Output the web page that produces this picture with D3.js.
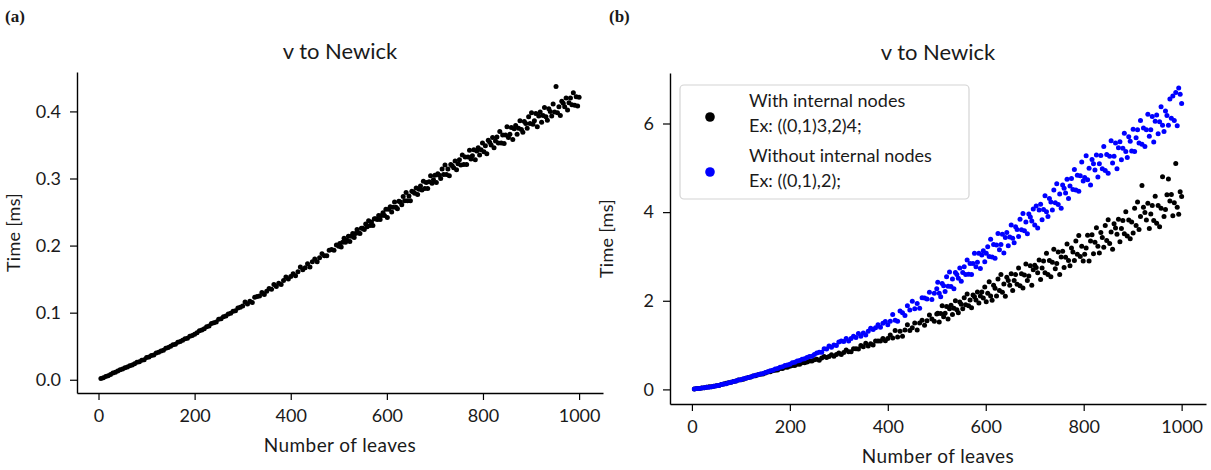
<!DOCTYPE html>
<html><head><meta charset="utf-8">
<script src="https://cdn.jsdelivr.net/npm/d3@7"></script>
<style>body{margin:0;background:#fff}svg text{font-family:Lato,"Noto Sans",sans-serif;fill:#1a1a1a}</style>
</head><body>
<svg id="c" width="1211" height="470"></svg>
<script>
// number of leaves (x values, shared by all series)
const leaves = [5,10,15,20,25,30,35,40,45,50,55,60,65,70,75,80,85,90,95,100,
105,110,115,120,125,130,135,140,145,150,155,160,165,170,175,180,185,190,195,200,
205,210,215,220,225,230,235,240,245,250,255,260,265,270,275,280,285,290,295,300,
305,310,315,320,325,330,335,340,345,350,355,360,365,370,375,380,385,390,395,400,
405,410,415,420,425,430,435,440,445,450,455,460,465,470,475,480,485,490,495,500,
502,505,508,511,514,517,520,523,526,529,532,535,538,541,544,547,550,553,556,559,562,565,568,571,574,577,580,583,586,589,592,595,598,
601,604,607,610,613,616,619,622,625,628,631,634,637,640,643,646,649,652,655,658,661,664,667,670,673,676,679,682,685,688,691,694,697,700,
703,706,709,712,715,718,721,724,727,730,733,736,739,742,745,748,751,754,757,760,763,766,769,772,775,778,781,784,787,790,793,796,799,
802,805,808,811,814,817,820,823,826,829,832,835,838,841,844,847,850,853,856,859,862,865,868,871,874,877,880,883,886,889,892,895,898,
901,904,907,910,913,916,919,922,925,928,931,934,937,940,943,946,949,952,955,958,961,964,967,970,973,976,979,982,985,988,991,994,997,1000];

// panel (a): time [ms]
const timeA = [0.002,0.003,0.005,0.006,0.008,0.010,0.011,0.013,0.015,0.016,0.018,0.019,0.021,0.022,0.024,0.026,0.027,0.029,0.030,0.033,
0.034,0.036,0.037,0.040,0.041,0.043,0.044,0.047,0.048,0.050,0.052,0.053,0.056,0.057,0.059,0.061,0.062,0.065,0.066,0.068,
0.070,0.073,0.074,0.076,0.079,0.080,0.084,0.085,0.086,0.090,0.091,0.094,0.095,0.098,0.099,0.102,0.103,0.107,0.108,0.110,
0.116,0.113,0.117,0.115,0.123,0.124,0.125,0.130,0.127,0.132,0.136,0.135,0.142,0.139,0.144,0.142,0.148,0.153,0.150,0.154,
0.158,0.155,0.161,0.168,0.164,0.167,0.173,0.168,0.176,0.180,0.176,0.182,0.188,0.185,0.185,0.193,0.194,0.193,0.201,0.199,
0.203,0.198,0.205,0.211,0.205,0.208,0.214,0.206,0.214,0.218,0.212,0.218,0.224,0.219,0.218,0.226,0.226,0.224,0.232,0.228,0.237,0.230,0.235,0.230,0.240,0.240,0.239,0.245,0.239,0.245,0.249,0.245,0.254,
0.242,0.254,0.258,0.250,0.257,0.265,0.257,0.255,0.266,0.265,0.261,0.273,0.267,0.279,0.267,0.274,0.267,0.281,0.280,0.278,0.286,0.276,0.284,0.289,0.283,0.296,0.285,0.294,0.285,0.295,0.304,0.293,0.298,0.305,
0.294,0.307,0.305,0.300,0.314,0.306,0.320,0.306,0.314,0.304,0.321,0.319,0.316,0.326,0.313,0.322,0.328,0.320,0.335,0.321,0.332,0.321,0.332,0.342,0.329,0.334,0.343,0.328,0.341,0.346,0.335,0.343,0.353,
0.340,0.349,0.337,0.357,0.354,0.350,0.361,0.346,0.356,0.362,0.353,0.370,0.353,0.365,0.352,0.365,0.377,0.361,0.366,0.376,0.358,0.374,0.379,0.366,0.375,0.386,0.373,0.369,0.385,0.382,0.375,0.392,0.382,
0.398,0.381,0.386,0.397,0.377,0.393,0.399,0.384,0.394,0.406,0.392,0.387,0.404,0.400,0.393,0.411,0.399,0.437,0.398,0.407,0.394,0.415,0.412,0.407,0.420,0.402,0.413,0.420,0.410,0.428,0.409,0.422,0.408,0.421];

// panel (b): with internal nodes
const timeWith = [0.01,0.02,0.02,0.03,0.04,0.05,0.06,0.06,0.07,0.08,0.09,0.11,0.12,0.14,0.15,0.16,0.18,0.19,0.21,0.22,
0.23,0.25,0.27,0.28,0.30,0.31,0.33,0.34,0.35,0.37,0.39,0.40,0.42,0.43,0.44,0.47,0.47,0.50,0.50,0.52,
0.54,0.54,0.57,0.57,0.60,0.60,0.62,0.64,0.64,0.67,0.68,0.66,0.71,0.74,0.72,0.74,0.78,0.75,0.79,0.82,
0.79,0.83,0.89,0.85,0.85,0.92,0.92,0.91,0.99,0.96,1.04,0.98,1.03,1.00,1.09,1.09,1.09,1.15,1.10,1.15,
1.23,1.16,1.33,1.18,1.31,1.20,1.34,1.46,1.33,1.39,1.50,1.34,1.50,1.56,1.45,1.55,1.68,1.59,1.54,1.70,
1.72,1.52,1.71,1.89,1.64,1.72,1.87,1.59,1.82,1.90,1.69,1.83,2.00,1.80,1.73,1.97,1.92,1.82,2.07,1.91,2.15,1.89,2.02,1.84,2.13,2.09,2.02,2.20,1.95,2.11,2.20,2.06,2.31,
1.98,2.17,2.43,2.11,2.01,2.35,2.28,2.11,2.49,2.23,2.59,2.19,2.38,2.10,2.53,2.46,2.35,2.61,2.23,2.46,2.59,2.37,2.74,2.34,2.61,2.29,2.58,2.83,2.46,2.56,2.79,2.35,2.70,2.80,
2.75,2.63,2.92,2.48,2.74,2.90,2.63,3.07,2.59,2.91,2.54,2.87,3.16,2.72,2.84,3.10,2.59,2.99,3.12,2.75,2.98,3.28,2.91,2.79,3.19,3.10,2.91,3.35,3.05,3.47,3.00,3.23,2.90,
3.05,3.19,3.48,2.90,3.35,3.49,3.06,3.32,3.65,3.23,3.08,3.54,3.43,3.21,3.70,3.36,3.83,3.29,3.55,3.16,3.74,3.64,3.50,3.84,3.33,3.63,3.81,3.51,4.01,3.46,3.82,3.40,3.78,
3.53,4.09,3.70,4.23,3.61,3.90,4.60,4.11,3.99,3.82,4.20,3.63,3.96,4.15,3.81,4.36,3.75,4.15,3.67,4.09,4.80,3.90,4.06,4.39,4.75,4.25,4.40,3.92,4.21,5.10,4.11,3.95,4.46,4.35];

// panel (b): without internal nodes
const timeWithout = [0.01,0.02,0.02,0.03,0.04,0.05,0.05,0.06,0.07,0.08,0.09,0.11,0.12,0.13,0.15,0.16,0.18,0.19,0.21,0.22,
0.24,0.25,0.27,0.28,0.30,0.32,0.33,0.35,0.36,0.38,0.40,0.42,0.43,0.46,0.47,0.50,0.51,0.54,0.55,0.57,
0.60,0.61,0.64,0.65,0.68,0.69,0.72,0.74,0.75,0.79,0.82,0.84,0.84,0.92,0.91,0.98,0.95,1.00,0.99,1.07,
1.09,1.08,1.15,1.09,1.15,1.20,1.17,1.26,1.20,1.27,1.23,1.31,1.38,1.35,1.39,1.46,1.40,1.49,1.53,1.46,
1.54,1.69,1.56,1.54,1.77,1.73,1.67,1.89,1.79,1.99,1.82,1.94,1.83,2.07,2.06,2.04,2.19,2.03,2.17,2.27,
2.42,2.17,2.09,2.39,2.34,2.21,2.54,2.33,2.65,2.32,2.49,2.27,2.64,2.59,2.51,2.74,2.44,2.64,2.77,2.59,2.92,2.60,2.84,2.59,2.84,3.07,2.77,2.87,3.07,2.73,3.03,3.13,2.88,
3.07,3.22,3.00,3.39,2.99,3.27,2.96,3.26,3.52,3.15,3.27,3.50,3.08,3.43,3.54,3.24,3.44,3.71,3.41,3.31,3.67,3.61,3.45,3.84,3.60,3.97,3.58,3.78,3.51,3.96,3.89,3.80,4.07,3.71,
4.14,3.64,4.05,4.18,3.83,4.06,4.37,4.01,3.90,4.31,4.23,4.05,4.50,4.21,4.64,4.17,4.41,4.09,4.61,4.54,4.43,4.74,4.31,4.59,4.76,4.51,4.96,4.50,4.83,4.47,4.82,5.13,4.70,
4.78,5.27,4.73,4.99,4.61,5.19,5.09,4.95,5.29,4.79,5.09,5.28,4.98,5.48,4.94,5.30,4.88,5.26,5.61,5.11,5.26,5.56,4.98,5.45,5.59,5.18,5.44,5.78,5.37,5.23,5.70,5.60,5.38,
5.87,5.37,5.68,5.86,5.56,6.07,5.53,5.90,5.48,5.86,6.21,5.71,5.86,6.16,5.58,6.05,6.19,5.77,6.04,6.38,5.96,5.82,6.28,6.18,5.96,6.55,6.12,6.62,6.07,6.70,5.95,6.80,6.66,6.45];

const xTicks = [0,200,400,600,800,1000];
const yTicksA = [0.0,0.1,0.2,0.3,0.4];
const yTicksB = [0,2,4,6];
const seriesNamesB = ["With internal nodes","Without internal nodes"];
const seriesExamplesB = ["Ex: ((0,1)3,2)4;","Ex: ((0,1),2);"];
const seriesColorsB = ["#000000","#0000ff"];
const titles = ["v to Newick","v to Newick"];
const panelLetters = ["(a)","(b)"];

const svg = d3.select("#c");

function padded(arrs){
  const all = [].concat(...arrs);
  const [lo,hi] = d3.extent(all);
  const r = hi-lo;
  return [lo-0.05*r, hi+0.05*r];
}

function drawPanel(box, series, colors, yTicks, fmt, title, letter, letterX){
  const x = d3.scaleLinear().domain(padded([leaves])).range([box.l, box.r]);
  const y = d3.scaleLinear().domain(padded(series)).range([box.b, box.t]);
  const g = svg.append("g");

  series.forEach((s,i)=>{
    g.append("g").selectAll("circle").data(leaves.map((d,j)=>[d,s[j]]))
      .join("circle").attr("cx",d=>x(d[0])).attr("cy",d=>y(d[1]))
      .attr("r",2.5).attr("fill",colors[i]);
  });

  const xa = g.append("g").attr("transform",`translate(0,${box.b})`)
    .call(d3.axisBottom(x).tickValues(xTicks).tickFormat(d3.format("d")).tickSize(7).tickSizeOuter(0).tickPadding(9));
  const ya = g.append("g").attr("transform",`translate(${box.l},0)`)
    .call(d3.axisLeft(y).tickValues(yTicks).tickFormat(fmt).tickSize(7).tickSizeOuter(0).tickPadding(9));
  [xa,ya].forEach(a=>{
    a.select(".domain").attr("stroke","#000").attr("stroke-width",1.4);
    a.selectAll(".tick line").attr("stroke","#000").attr("stroke-width",1.2);
    a.selectAll(".tick text").style("font-size","18px").attr("fill","#1a1a1a");
  });

  g.append("text").attr("x",(box.l+box.r)/2).attr("y",box.b+59)
    .attr("text-anchor","middle").style("font-size","19px").style("letter-spacing","0.4px").text("Number of leaves");
  g.append("text").attr("transform",`translate(${box.l-57},${(box.t+box.b)/2}) rotate(-90)`)
    .attr("text-anchor","middle").style("font-size","18px").style("letter-spacing","0.3px").text("Time [ms]");
  g.append("text").attr("x",(box.l+box.r)/2).attr("y",box.t-13)
    .attr("text-anchor","middle").style("font-size","22px").text(title);
  g.append("text").attr("x",letterX).attr("y",22)
    .style("font-family","'Liberation Serif',serif").style("font-weight","bold").style("font-size","17px").text(letter);
  return {x,y};
}

drawPanel({l:77,r:603,t:72,b:393},[timeA],["#000"],yTicksA,d3.format(".1f"),titles[0],panelLetters[0],5);
drawPanel({l:670,r:1206,t:73,b:404},[timeWith,timeWithout],seriesColorsB,yTicksB,d3.format("d"),titles[1],panelLetters[1],609);

// legend
const lg = svg.append("g");
lg.append("rect").attr("x",680).attr("y",85).attr("width",289).attr("height",114)
  .attr("rx",4).attr("fill","#fff").attr("fill-opacity",0.8).attr("stroke","#d4d4d4").attr("stroke-width",1.2);
seriesNamesB.forEach((n,i)=>{
  const cy = 117 + i*55;
  lg.append("circle").attr("cx",710).attr("cy",cy).attr("r",4.8).attr("fill",seriesColorsB[i]);
  lg.append("text").attr("x",749).attr("y",cy-10).style("font-size","18px").text(n);
  lg.append("text").attr("x",749).attr("y",cy+15).style("font-size","18px").text(seriesExamplesB[i]);
});
</script>
</body></html>
